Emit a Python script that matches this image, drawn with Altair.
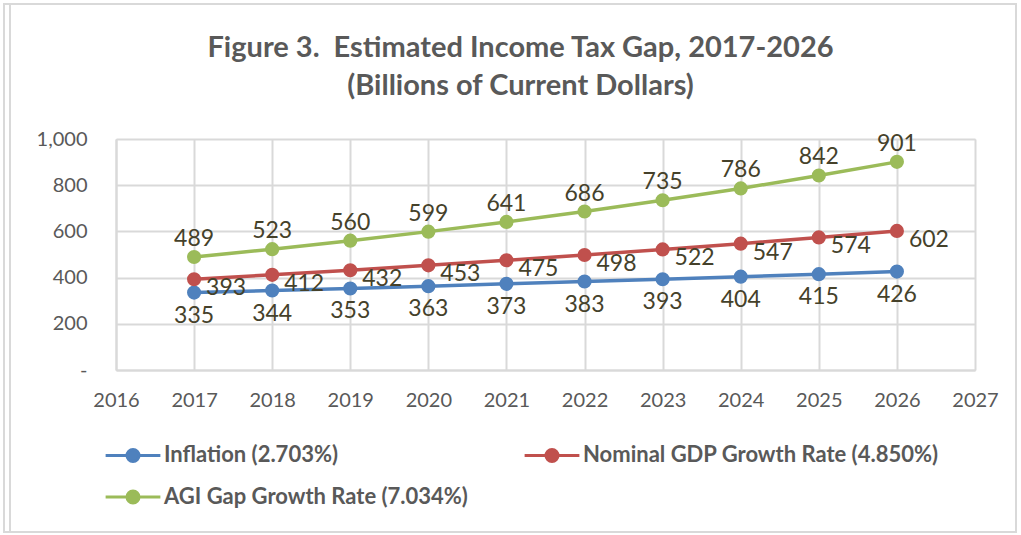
import altair as alt
import pandas as pd

years = [2017, 2018, 2019, 2020, 2021, 2022, 2023, 2024, 2025, 2026]
series_names = ["Inflation (2.703%)", "Nominal GDP Growth Rate (4.850%)", "AGI Gap Growth Rate (7.034%)"]
inflation = [335, 344, 353, 363, 373, 383, 393, 404, 415, 426]
nominal_gdp = [393, 412, 432, 453, 475, 498, 522, 547, 574, 602]
agi_gap = [489, 523, 560, 599, 641, 686, 735, 786, 842, 901]
colors = ["#4F81BD", "#C0504D", "#9BBB59"]
x_ticks = list(range(2016, 2028))
y_ticks = [0, 200, 400, 600, 800, 1000]

rows = []
for name, vals in zip(series_names, [inflation, nominal_gdp, agi_gap]):
    for y, v in zip(years, vals):
        rows.append({"Year": y, "Series": name, "Value": v})
df = pd.DataFrame(rows)

# legend is filled column by column: order entries so rows read Inflation | Nominal, then AGI
legend_order = [series_names[0], series_names[2], series_names[1]]
legend_colors = [colors[0], colors[2], colors[1]]

FONT = "Lato"
LABEL_COLOR = "#45412A"
GRID = "#D9D9D9"

color = alt.Color(
    "Series:N",
    scale=alt.Scale(domain=legend_order, range=legend_colors),
    legend=alt.Legend(
        title=None,
        orient="none",
        legendX=-12,
        legendY=287,
        columns=2,
        columnPadding=50,
        rowPadding=-9,
        symbolType="M -1 0 L -0.22 0 M 0.22 0 L 1 0 M -0.22 0 A 0.22 0.22 0 1 1 0.22 0 A 0.22 0.22 0 1 1 -0.22 0 Z",
        symbolSize=3000,
        symbolStrokeWidth=3,
        labelFont=FONT,
        labelFontSize=22,
        labelFontWeight="bold",
        labelColor="#595959",
        labelOffset=2,
        labelLimit=400,
    ),
)

x = alt.X(
    "Year:Q",
    scale=alt.Scale(domain=[2016, 2027], nice=False, zero=False),
    axis=alt.Axis(
        values=x_ticks, format="d", title=None, labelFont=FONT, labelFontSize=20,
        labelColor="#595959", labelPadding=20, labelFlush=False, ticks=False, domainColor=GRID,
        domainWidth=2, gridColor=GRID, gridWidth=2,
    ),
)
y = alt.Y(
    "Value:Q",
    scale=alt.Scale(domain=[0, 1000], nice=False),
    axis=alt.Axis(
        values=y_ticks, title=None, labelFont=FONT, labelFontSize=20,
        labelColor="#595959", labelPadding=29, labelFlush=False, ticks=False, domainColor=GRID,
        domainWidth=2, gridColor=GRID, gridWidth=2,
        labelExpr="datum.value == 0 ? '-' : format(datum.value, ',')",
    ),
)

base = alt.Chart(df)

frame = alt.Chart(pd.DataFrame({"a": [0]})).mark_rect(
    fill="transparent", stroke="#D9D9D9", strokeWidth=2
).encode(
    x=alt.value(-112), x2=alt.value(900), y=alt.value(-135), y2=alt.value(393)
)
frame2 = alt.Chart(pd.DataFrame({"a": [0]})).mark_rule(
    stroke="#D9D9D9", strokeWidth=2
).encode(
    x=alt.value(-106), y=alt.value(-135), y2=alt.value(393)
)

lines = base.mark_line(strokeWidth=3.5).encode(x=x, y=y, color=color)
points = base.mark_point(filled=True, size=200, opacity=1, shape="circle").encode(
    x=x, y=y, color=alt.Color("Series:N", scale=alt.Scale(domain=legend_order, range=legend_colors), legend=None)
)

text_common = dict(font=FONT, fontSize=23, color=LABEL_COLOR, baseline="middle", align="center")
lab_inf = base.transform_filter(alt.datum.Series == series_names[0]).mark_text(dy=23, **text_common).encode(
    x="Year:Q", y="Value:Q", text="Value:Q")
lab_gdp = base.transform_filter(alt.datum.Series == series_names[1]).mark_text(dx=32, dy=9, **text_common).encode(
    x="Year:Q", y="Value:Q", text="Value:Q")
lab_agi = base.transform_filter(alt.datum.Series == series_names[2]).mark_text(dy=-18, **text_common).encode(
    x="Year:Q", y="Value:Q", text="Value:Q")

chart = alt.layer(frame, frame2, lines, points, lab_inf, lab_gdp, lab_agi).properties(
    width=859,
    height=231,
    autosize=alt.AutoSizeParams(type="none"),
    padding={"left": 116, "top": 139, "right": 46, "bottom": 165},
    title=alt.TitleParams(
        text=["Figure 3.\u00a0 Estimated Income Tax Gap, 2017-2026", "(Billions of Current Dollars)"],
        font=FONT, fontSize=29, fontWeight="bold", color="#595959",
        anchor="middle", frame="group", dx=-25, offset=-98, lineHeight=38,
    ),
).configure_view(stroke=None).configure(background="white")

chart.save("out.html", embed_options={"renderer": "svg", "actions": False})
